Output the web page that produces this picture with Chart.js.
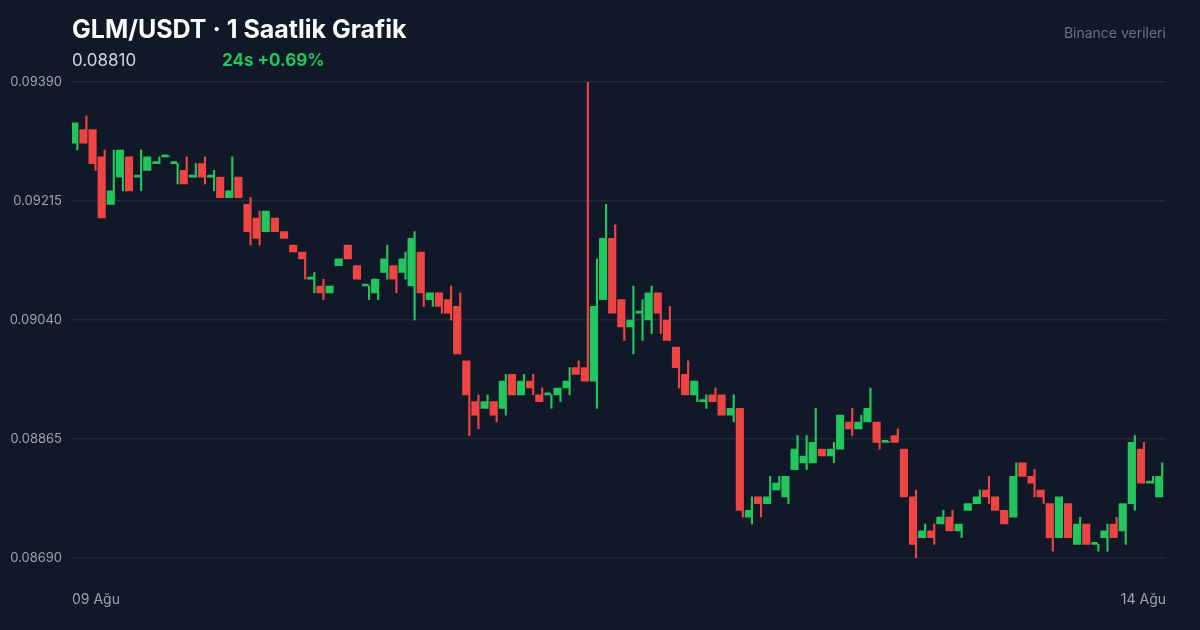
<!DOCTYPE html>
<html>
<head>
<meta charset="utf-8">
<script src="https://cdn.jsdelivr.net/npm/chart.js@4.4.1/dist/chart.umd.min.js"></script>
<style>
  html, body { margin: 0; padding: 0; background: #111827; }
  #wrap { position: relative; width: 1200px; height: 630px; font-family: Inter, "Noto Sans", sans-serif; }
  #chart { position: absolute; left: 0; top: 0; }
  .t { position: absolute; white-space: nowrap; }
  #title { left: 72px; top: 14px; font-size: 25px; font-weight: 700; color: #f9fafb; }
  #price { left: 72px; top: 50px; font-size: 17px; color: #d1d5db; }
  #change { left: 222px; top: 50px; font-size: 17px; font-weight: 700; color: #22c55e; }
  #src { right: 34px; top: 24px; font-size: 14px; color: #6b7280; }
  .xl { top: 590px; font-size: 14px; color: #9ca3af; }
</style>
</head>
<body>
<div id="wrap">
  <canvas id="chart" width="1200" height="630"></canvas>
  <div class="t" id="title">GLM/USDT · 1 Saatlik Grafik</div>
  <div class="t" id="price">0.08810</div>
  <div class="t" id="change">24s +0.69%</div>
  <div class="t" id="src">Binance verileri</div>
  <div class="t xl" style="left:72px">09 Ağu</div>
  <div class="t xl" style="right:34px">14 Ağu</div>
</div>
<script>
const opens = [
  .0930,.0932,.0932,.0928,.0921,.0925,.0928,.0925,.0926,.0927,
  .0928,.0927,.0926,.0925,.0927,.0925,.0925,.0922,.0925,.0921,
  .0919,.0917,.0919,.0917,.0915,.0914,.0910,.0909,.0908,.0912,
  .0915,.0912,.0909,.0908,.0911,.0912,.0911,.0909,.0914,.0907,
  .0908,.0907,.0906,.0898,.0892,.0891,.0892,.0891,.0896,.0893,
  .0895,.0893,.0893,.0893,.0894,.0897,.0897,.0895,.0907,.0916,
  .0907,.0903,.0905,.0904,.0908,.0904,.0900,.0896,.0893,.0892,
  .0893,.0893,.0890,.0891,.0875,.0878,.0877,.0879,.0878,.0882,
  .0883,.0883,.0885,.0884,.0885,.0889,.0888,.0889,.0889,.0886,
  .0887,.0885,.0878,.0872,.0873,.0874,.0875,.0873,.0876,.0877,
  .0879,.0878,.0876,.0875,.0883,.0881,.0879,.0877,.0872,.0877,
  .0871,.0874,.0871,.0872,.0874,.0873,.0877,.0885,.0880,.0878
];
const closes = [
  .0933,.0930,.0927,.0919,.0923,.0929,.0923,.0925,.0928,.0927,
  .0928,.0927,.0924,.0925,.0925,.0925,.0922,.0923,.0922,.0917,
  .0916,.0920,.0917,.0916,.0914,.0913,.0910,.0908,.0909,.0913,
  .0913,.0910,.0909,.0910,.0913,.0910,.0913,.0916,.0908,.0908,
  .0906,.0905,.0899,.0893,.0890,.0892,.0890,.0895,.0893,.0895,
  .0894,.0892,.0893,.0894,.0895,.0896,.0895,.0906,.0916,.0905,
  .0903,.0904,.0905,.0908,.0905,.0901,.0897,.0893,.0895,.0892,
  .0892,.0890,.0891,.0876,.0876,.0877,.0878,.0880,.0881,.0885,
  .0884,.0886,.0884,.0885,.0890,.0888,.0889,.0891,.0886,.0886,
  .0886,.0878,.0871,.0873,.0872,.0875,.0873,.0874,.0877,.0878,
  .0878,.0876,.0874,.0881,.0881,.0880,.0878,.0872,.0878,.0872,
  .0874,.0871,.0871,.0873,.0872,.0877,.0886,.0880,.0880,.0881
];
const highs = [
  .0933,.0934,.0932,.0929,.0929,.0929,.0928,.0929,.0928,.0928,
  .0928,.0927,.0928,.0927,.0928,.0926,.0925,.0928,.0925,.0922,
  .0920,.0920,.0919,.0917,.0915,.0914,.0911,.0910,.0909,.0913,
  .0915,.0912,.0909,.0910,.0915,.0912,.0914,.0917,.0914,.0908,
  .0908,.0909,.0908,.0898,.0893,.0893,.0892,.0896,.0896,.0896,
  .0896,.0894,.0893,.0894,.0897,.0898,.0939,.0913,.0921,.0918,
  .0907,.0909,.0907,.0909,.0908,.0906,.0900,.0898,.0895,.0893,
  .0894,.0893,.0893,.0891,.0878,.0878,.0881,.0881,.0881,.0887,
  .0887,.0891,.0885,.0886,.0890,.0891,.0890,.0894,.0889,.0886,
  .0888,.0885,.0879,.0874,.0874,.0876,.0876,.0874,.0877,.0879,
  .0881,.0878,.0876,.0883,.0883,.0882,.0879,.0877,.0878,.0877,
  .0875,.0874,.0871,.0874,.0875,.0877,.0887,.0886,.0881,.0883
];
const lows = [
  .0929,.0930,.0926,.0919,.0921,.0923,.0923,.0923,.0926,.0927,
  .0928,.0924,.0924,.0925,.0924,.0923,.0922,.0922,.0922,.0915,
  .0915,.0917,.0917,.0916,.0914,.0910,.0908,.0907,.0908,.0912,
  .0913,.0910,.0907,.0907,.0910,.0908,.0910,.0904,.0906,.0906,
  .0905,.0904,.0899,.0887,.0888,.0891,.0889,.0890,.0893,.0893,
  .0893,.0892,.0891,.0892,.0893,.0896,.0895,.0891,.0907,.0905,
  .0901,.0899,.0901,.0902,.0902,.0901,.0894,.0893,.0892,.0891,
  .0892,.0890,.0889,.0875,.0874,.0875,.0877,.0879,.0877,.0882,
  .0882,.0883,.0884,.0883,.0885,.0887,.0888,.0889,.0885,.0886,
  .0886,.0878,.0869,.0872,.0871,.0874,.0873,.0872,.0876,.0877,
  .0877,.0876,.0874,.0875,.0881,.0878,.0877,.0870,.0872,.0872,
  .0871,.0871,.0870,.0870,.0872,.0871,.0876,.0880,.0880,.0878
];
const yTicks = [0.08690, 0.08865, 0.09040, 0.09215, 0.09390];

const labels = opens.map((_, i) => i);
const colorOf = i => closes[i] >= opens[i] ? '#22c55e' : '#ef4444';
const colors = labels.map(colorOf);

new Chart(document.getElementById('chart'), {
  type: 'bar',
  data: {
    labels: labels,
    datasets: [
      {
        label: 'body',
        data: labels.map(i => [opens[i], closes[i]]),
        backgroundColor: colors,
        barThickness: 6,
        minBarLength: 2,
        borderRadius: 1,
        order: 1
      },
      {
        label: 'wick',
        data: labels.map(i => [lows[i], highs[i]]),
        backgroundColor: colors,
        barThickness: 1.5,
        minBarLength: 1,
        order: 2
      }
    ]
  },
  options: {
    responsive: false,
    animation: false,
    layout: { padding: { left: 0, right: 34, top: 82, bottom: 72 } },
    plugins: { legend: { display: false }, tooltip: { enabled: false } },
    scales: {
      x: {
        stacked: false,
        offset: true,
        grid: { display: false },
        border: { display: false },
        ticks: { display: false },
        afterFit: s => { s.height = 0; }
      },
      y: {
        min: 0.0869,
        max: 0.0939,
        afterBuildTicks: s => { s.ticks = yTicks.map(v => ({ value: v })); },
        afterFit: s => { s.width = 72; },
        grid: { color: '#1f2937', lineWidth: 1.5, drawTicks: false },
        border: { display: false },
        ticks: {
          padding: 10,
          color: '#9ca3af',
          font: { family: 'Inter', size: 13 },
          callback: v => v.toFixed(5)
        }
      }
    }
  }
});
</script>
</body>
</html>
